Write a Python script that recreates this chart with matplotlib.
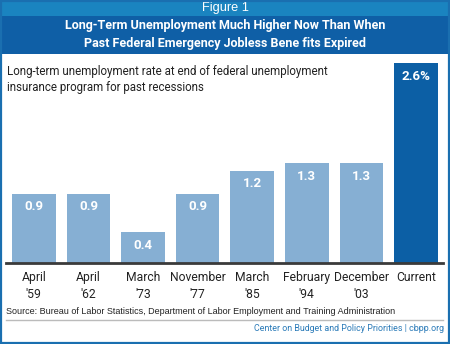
import matplotlib
matplotlib.use("Agg")
import matplotlib.pyplot as plt
from matplotlib.patches import Rectangle
from matplotlib.lines import Line2D
from matplotlib.font_manager import FontProperties

categories = ["April\n'59", "April\n'62", "March\n'73", "November\n'77",
              "March\n'85", "February\n'94", "December\n'03", "Current"]
values = [0.9, 0.9, 0.4, 0.9, 1.2, 1.3, 1.3, 2.6]
value_labels = ["0.9", "0.9", "0.4", "0.9", "1.2", "1.3", "1.3", "2.6%"]

FP_REG = FontProperties(family=['Roboto', 'DejaVu Sans'])
FP_BOLD = FontProperties(family=['Roboto', 'DejaVu Sans'], weight='bold')
FP_ARIAL = FontProperties(family=['Liberation Sans', 'DejaVu Sans'])

W, H = 450, 344
fig = plt.figure(figsize=(4.5, 3.44), dpi=100)
fig.patch.set_facecolor('white')
renderer = fig.canvas.get_renderer()


def fy(y):
    return 1 - y / H


def fx(x):
    return x / W


def fit(texts, target_px, maxsize=None):
    wmax = max(t.get_window_extent(renderer).width for t in texts)
    s = texts[0].get_fontsize() * target_px / wmax
    if maxsize is not None:
        s = min(s, maxsize)
    for t in texts:
        t.set_fontsize(s)
    return s


fig.patches.append(Rectangle((0, fy(16)), 1, 16 / H, transform=fig.transFigure,
                             facecolor='#1a84c0', edgecolor='none', zorder=0))
fig.patches.append(Rectangle((0, fy(54)), 1, 38 / H, transform=fig.transFigure,
                             facecolor='#0f5fa6', edgecolor='none', zorder=0))
fig.patches.append(Rectangle((fx(0.8), fy(343.2)), fx(448.4), 342.4 / H,
                             transform=fig.transFigure, facecolor='none',
                             edgecolor='#1a6fb0', linewidth=1.6, zorder=5))

t = fig.text(0.5, fy(8.5), "Figure 1", ha='center', va='center', color='white',
             fontproperties=FP_ARIAL)
t.set_fontsize(10)
fit([t], 47)
t1 = fig.text(0.5, fy(26), "Long-Term Unemployment Much Higher Now Than When",
              ha='center', va='center', color='white', fontproperties=FP_BOLD)
t1.set_fontsize(10)
fit([t1], 320, maxsize=11.5)
t2 = fig.text(0.5, fy(44), "Past Federal Emergency Jobless Bene fits Expired",
              ha='center', va='center', color='white', fontproperties=FP_BOLD)
t2.set_fontsize(t1.get_fontsize())

s1 = fig.text(fx(7), fy(72), "Long-term unemployment rate at end of federal unemployment",
              ha='left', va='center', color='#222222', fontproperties=FP_REG)
s1.set_fontsize(10)
fit([s1], 322, maxsize=11.5)
s2 = fig.text(fx(7), fy(88), "insurance program for past recessions",
              ha='left', va='center', color='#222222', fontproperties=FP_REG)
s2.set_fontsize(s1.get_fontsize())

base_px, top_px = 262.7, 63.3
left_px, right_px = 6.5, 443.3
ax = fig.add_axes([fx(left_px), fy(base_px), (right_px - left_px) / W,
                   (base_px - top_px) / H])
ax.set_facecolor('none')
colors = ['#86afd3'] * 7 + ['#0c5fa5']
xs = list(range(len(values)))
ax.bar(xs, values, width=0.8, color=colors, zorder=2)
ax.set_xlim(-0.5, len(values) - 0.5)
ax.set_ylim(0, 2.6)
for sp in ['top', 'right', 'left']:
    ax.spines[sp].set_visible(False)
ax.spines['bottom'].set_color('#3a3a3a')
ax.spines['bottom'].set_linewidth(2)
ax.set_yticks([])
ax.set_xticks(xs)
ax.set_xticklabels([])
ax.tick_params(axis='x', length=0)

cat_texts = []
for x, c in zip(xs, categories):
    ct = ax.annotate(c, (x, 0), xytext=(0, -8), textcoords='offset pixels',
                     ha='center', va='top', color='#222222',
                     fontproperties=FP_REG, linespacing=1.45)
    ct.set_fontsize(10)
    cat_texts.append(ct)
fit(cat_texts, 56, maxsize=12)

val_texts = []
for x, v, lab in zip(xs, values, value_labels):
    vt = ax.annotate(lab, (x, v), xytext=(0, -13), textcoords='offset pixels',
                     ha='center', va='center', color='white',
                     fontproperties=FP_BOLD)
    vt.set_fontsize(10)
    val_texts.append(vt)
fit([val_texts[-1]], 29, maxsize=11)
for vt in val_texts:
    vt.set_fontsize(val_texts[-1].get_fontsize())

src = fig.text(fx(6.5), fy(311), "Source: Bureau of Labor Statistics, Department of Labor Employment and Training Administration",
               ha='left', va='center', color='#222222', fontproperties=FP_ARIAL)
src.set_fontsize(7)
fit([src], 388)
fig.lines.append(Line2D([fx(6), fx(443)], [fy(319.5), fy(319.5)],
                        transform=fig.transFigure, color='#bbbbbb', linewidth=1))
cb = fig.text(fx(444), fy(328.5), "Center on Budget and Policy Priorities | cbpp.org",
              ha='right', va='center', color='#2a7ab8', fontproperties=FP_REG)
cb.set_fontsize(7)
fit([cb], 192, maxsize=8.5)

fig.savefig('out.png', dpi=100)
